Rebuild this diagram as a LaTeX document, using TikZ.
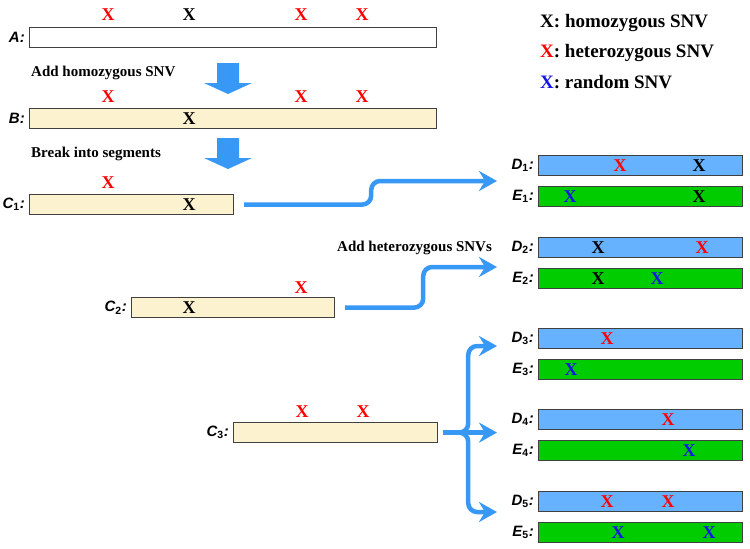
\documentclass[tikz,border=0pt]{standalone}
\usepackage{fontspec}
\setmainfont{Liberation Serif}
\newfontfamily\labfont{Liberation Sans}
\usepackage{tikz}
\usetikzlibrary{positioning,arrows.meta}
\definecolor{arrowblue}{RGB}{56,152,245}
\definecolor{barline}{RGB}{64,64,64}
\definecolor{cream}{RGB}{253,242,208}
\definecolor{dblue}{RGB}{102,178,255}
\definecolor{egreen}{RGB}{0,204,0}
\definecolor{snvblue}{RGB}{20,20,235}

\begin{document}
\begin{tikzpicture}[
    x=1pt, y=-1pt,
    bar/.style={draw=barline, line width=1.2pt, minimum height=20pt, inner sep=0pt, anchor=north west},
    dbar/.style={bar, fill=dblue, minimum width=204pt},
    ebar/.style={bar, fill=egreen, minimum width=204pt},
    snv/.style={font=\fontsize{18}{18}\selectfont\bfseries, inner sep=0pt},
    lab/.style={font=\fontsize{15}{15}\selectfont\labfont\bfseries\itshape, inner sep=0pt},
    note/.style={font=\fontsize{15}{15}\selectfont\bfseries, anchor=west, inner sep=0pt},
    legend/.style={font=\fontsize{19}{19}\selectfont\bfseries, anchor=west, inner sep=0pt},
    conn/.style={arrowblue, line width=4.5pt, rounded corners=9pt, -{Stealth[length=18pt,width=20pt,inset=6pt]}}
]
    \useasboundingbox (0,0) rectangle (750,549);

    % Legend
    \node[legend] (k1) at (540,23) {X: homozygous SNV};
    \node[legend] (k2) at (540,53) {\textcolor{red}{X}: heterozygous SNV};
    \node[legend] (k3) at (540,82) {\textcolor{snvblue}{X}: random SNV};

    % A
    \node[bar, minimum width=407pt] (A) at (29,27) {};
    \node[lab, left=4pt of A] (lA) {A:};
    \foreach \x/\c [count=\i] in {108/red,189/black,301/red,362/red}
        \node[snv, text=\c] (a\i) at (\x,15) {X};

    \fill[arrowblue] (217,63) -- (239,63) -- (239,83) -- (252,83) -- (228,94) -- (204,83) -- (217,83) -- cycle;
    \node[note] (n1) at (31,73) {Add homozygous SNV};

    % B
    \node[bar, fill=cream, minimum width=407pt] (B) at (29,108) {};
    \node[lab, left=4pt of B] (lB) {B:};
    \node[snv] (b1) at (189,0 |- B) {X};
    \foreach \x [count=\i] in {108,301,362}
        \node[snv, text=red] (b\i r) at (\x,97) {X};

    \fill[arrowblue] (217,138) -- (239,138) -- (239,158) -- (252,158) -- (228,169) -- (204,158) -- (217,158) -- cycle;
    \node[note] (n2) at (31,154) {Break into segments};

    % C segments
    \node[bar, fill=cream, minimum width=204pt] (C1) at (29,194) {};
    \node[lab, left=4pt of C1] (lC1) {C\textsubscript{\upshape 1}:};
    \node[snv, text=red] (c1a) at (108,183) {X};
    \node[snv] (c1b) at (189,0 |- C1) {X};

    \node[bar, fill=cream, minimum width=203pt] (C2) at (131,297) {};
    \node[lab, left=4pt of C2] (lC2) {C\textsubscript{\upshape 2}:};
    \node[snv] (c2a) at (189,0 |- C2) {X};
    \node[snv, text=red] (c2b) at (301,288) {X};

    \node[bar, fill=cream, minimum width=204pt] (C3) at (233,422) {};
    \node[lab, left=4pt of C3] (lC3) {C\textsubscript{\upshape 3}:};
    \node[snv, text=red] (c3a) at (302,412) {X};
    \node[snv, text=red] (c3b) at (363,412) {X};

    % D and E pairs
    \foreach \i/\y in {1/155,2/237,3/328,4/409,5/491} {
        \node[dbar] (D\i) at (538,\y) {};
        \node[lab, left=4pt of D\i] (lD\i) {D\textsubscript{\upshape\i}:};
        \node[ebar] (E\i) at (538,\y+31) {};
        \node[lab, left=4pt of E\i] (lE\i) {E\textsubscript{\upshape\i}:};
    }
    \node[snv, text=red] (d1a) at (620,0 |- D1) {X};
    \node[snv] (d1b) at (699,0 |- D1) {X};
    \node[snv, text=snvblue] (e1a) at (570,0 |- E1) {X};
    \node[snv] (e1b) at (699,0 |- E1) {X};
    \node[snv] (d2a) at (598,0 |- D2) {X};
    \node[snv, text=red] (d2b) at (702,0 |- D2) {X};
    \node[snv] (e2a) at (598,0 |- E2) {X};
    \node[snv, text=snvblue] (e2b) at (657,0 |- E2) {X};
    \node[snv, text=red] (d3a) at (607,0 |- D3) {X};
    \node[snv, text=snvblue] (e3a) at (571,0 |- E3) {X};
    \node[snv, text=red] (d4a) at (668,0 |- D4) {X};
    \node[snv, text=snvblue] (e4a) at (689,0 |- E4) {X};
    \node[snv, text=red] (d5a) at (607,0 |- D5) {X};
    \node[snv, text=red] (d5b) at (668,0 |- D5) {X};
    \node[snv, text=snvblue] (e5a) at (618,0 |- E5) {X};
    \node[snv, text=snvblue] (e5b) at (709,0 |- E5) {X};

    % connectors
    \node[note] (n3) at (337,248) {Add heterozygous SNVs};
    \coordinate (t1) at (497,181);
    \coordinate (t2) at (497,267);
    \coordinate (t3) at (497,346);
    \coordinate (t4) at (497,0 |- C3);
    \coordinate (t5) at (497,512);
    \draw[conn] ([xshift=10pt]C1.east) -- ++(127,0) |- (t1);
    \draw[conn] ([xshift=10pt]C2.east) -- ++(78,0) |- (t2);
    \draw[conn] ([xshift=5pt]C3.east) -- ++(25,0) |- (t3);
    \draw[conn] ([xshift=5pt]C3.east) -- (t4);
    \draw[conn] ([xshift=5pt]C3.east) -- ++(25,0) |- (t5);
\end{tikzpicture}
\end{document}
